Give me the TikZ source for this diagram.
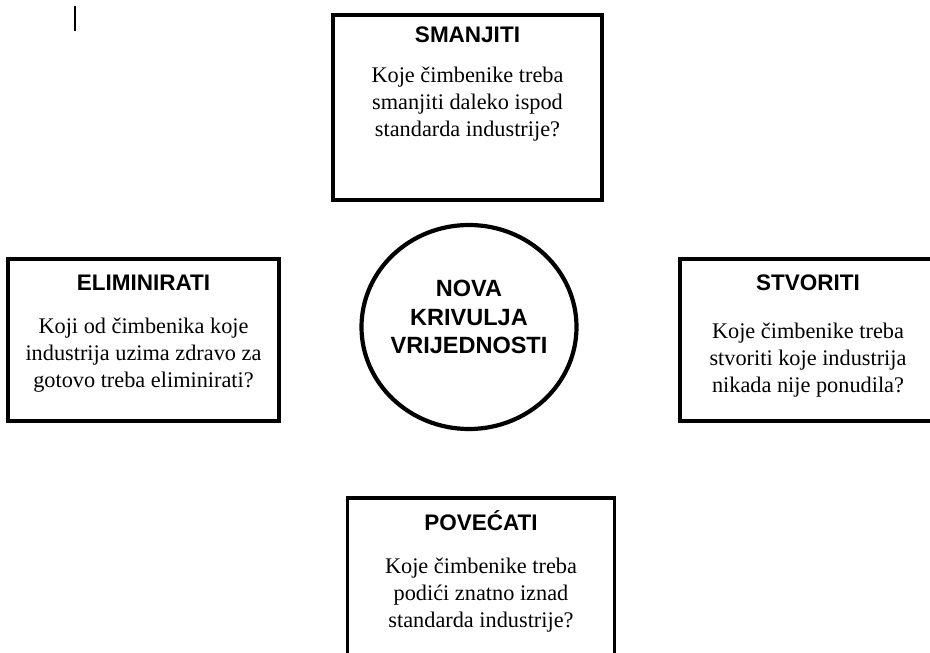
\documentclass[tikz,border=0pt]{standalone}
\usepackage{fontspec}
\setmainfont{Liberation Serif}
\newfontfamily\headfont{Liberation Sans}
\usetikzlibrary{shapes.geometric}
\begin{document}
\begin{tikzpicture}[x=1pt,y=-1pt,
  boxframe/.style={draw, rectangle, line width=3.2pt, inner sep=0pt},
  coreframe/.style={draw, ellipse, line width=4.2pt, inner sep=0pt},
  headtxt/.style={font=\headfont\bfseries\fontsize{22.5}{26}\selectfont, inner sep=0pt},
  bodytxt/.style={font=\fontsize{22.3}{26.8}\selectfont, align=center, inner sep=0pt},
  coretxt/.style={font=\headfont\bfseries\fontsize{23.5}{28.5}\selectfont, align=center, inner sep=0pt},
  marker/.style={line width=2.5pt}
]
\clip (0,0) rectangle (930,653);
\fill[white] (0,0) rectangle (930,653);

% small vertical mark
\coordinate (markTop) at (75,6);
\coordinate (markBot) at (75,31);
\draw[marker] (markTop) -- (markBot);

% top box
\node[boxframe, minimum width=269pt, minimum height=185pt] (smanjiti) at (467.5,107.5) {};
\node[headtxt] (smanjitiHead) at (467.5,35) {SMANJITI};
\node[bodytxt] (smanjitiBody) at (467.5,104) {Koje čimbenike treba\\smanjiti daleko ispod\\standarda industrije?};

% left box
\node[boxframe, minimum width=271pt, minimum height=162pt] (eliminirati) at (143.5,340) {};
\node[headtxt] (eliminiratiHead) at (143.5,283) {ELIMINIRATI};
\node[bodytxt] (eliminiratiBody) at (143.5,355) {Koji od čimbenika koje\\industrija uzima zdravo za\\gotovo treba eliminirati?};

% centre
\node[coreframe, minimum width=215pt, minimum height=204pt] (core) at (469,327) {};
\node[coretxt] (coreText) at (469,317) {NOVA\\KRIVULJA\\VRIJEDNOSTI};

% right box
\node[boxframe, minimum width=256pt, minimum height=162pt] (stvoriti) at (808,340) {};
\node[headtxt] (stvoritiHead) at (808,283) {STVORITI};
\node[bodytxt] (stvoritiBody) at (808,360) {Koje čimbenike treba\\stvoriti koje industrija\\nikada nije ponudila?};

% bottom box
\node[boxframe, minimum width=267pt, minimum height=180pt] (povecati) at (481,588) {};
\node[headtxt] (povecatiHead) at (481,521) {POVEĆATI};
\node[bodytxt] (povecatiBody) at (481,595) {Koje čimbenike treba\\podići znatno iznad\\standarda industrije?};
\end{tikzpicture}
\end{document}
